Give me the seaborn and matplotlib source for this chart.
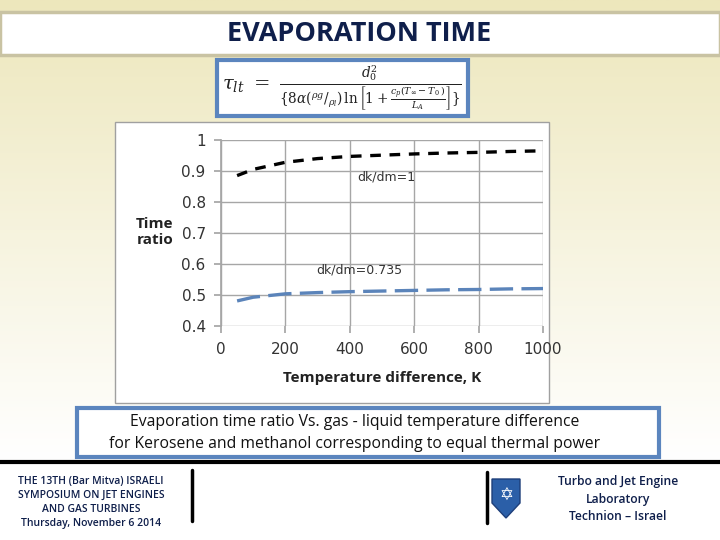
import numpy as np
import pandas as pd
import matplotlib
matplotlib.use("Agg")
import matplotlib.pyplot as plt
import matplotlib.patches as mpatches
import seaborn as sns

# ---- data ----
temp_diff = [50, 100, 200, 300, 400, 500, 600, 700, 800, 900, 1000]
ratio_dk1 = [0.885, 0.905, 0.928, 0.940, 0.947, 0.951, 0.955, 0.958, 0.960, 0.963, 0.965]
ratio_dk0735 = [0.480, 0.492, 0.503, 0.507, 0.510, 0.512, 0.514, 0.516, 0.517, 0.519, 0.520]
series_names = ["dk/dm=1", "dk/dm=0.735"]
x_ticks = [0, 200, 400, 600, 800, 1000]
y_ticks = [0.4, 0.5, 0.6, 0.7, 0.8, 0.9, 1.0]
y_tick_labels = ["0.4", "0.5", "0.6", "0.7", "0.8", "0.9", "1"]

df = pd.DataFrame({
    "T": temp_diff * 2,
    "ratio": ratio_dk1 + ratio_dk0735,
    "series": [series_names[0]] * len(temp_diff) + [series_names[1]] * len(temp_diff),
})

sns.set_theme(style="white")
plt.rcParams["font.family"] = ["DejaVu Sans"]
plt.rcParams["mathtext.fontset"] = "dejavuserif"

W, H = 720, 540
fig = plt.figure(figsize=(7.2, 5.4), dpi=100)


def fx(px):
    return px / W


def fy(py):
    return 1 - py / H


# ---- background gradient ----
bg = fig.add_axes([0, 0, 1, 1], zorder=-10)
bg.set_axis_off()
top = np.array([237, 231, 188]) / 255.0
bot = np.array([255, 255, 255]) / 255.0
t = np.clip(np.linspace(0, 1, 300) / 0.85, 0, 1)[:, None]
grad = top[None, :] * (1 - t) + bot[None, :] * t
img = np.repeat(grad[:, None, :], 2, axis=1)
bg.imshow(img, aspect="auto", extent=[0, 1, 0, 1], origin="upper")
bg.set_xlim(0, 1)
bg.set_ylim(0, 1)

# white area below footer line
bg.add_patch(mpatches.Rectangle((0, 0), 1, fy(461), color="white", transform=bg.transAxes))

# title box
bg.add_patch(mpatches.Rectangle((fx(0), fy(55)), 1, (55 - 12) / H, facecolor="white",
                                edgecolor="#C9C3A3", lw=2.5, transform=bg.transAxes))
fig.text(fx(359), fy(34), "EVAPORATION TIME", ha="center", va="center",
         fontsize=19.5, color="#0F1F4B", family=["Liberation Sans Narrow", "Open Sans"],
         fontweight="bold")

# formula box
bg.add_patch(mpatches.Rectangle((fx(217), fy(116)), (468 - 217) / W, (116 - 60) / H,
                                facecolor="white", edgecolor="#5B85BE", lw=3, transform=bg.transAxes))
fig.text(fx(342), fy(88),
         r"$\tau_{lt}\ =\ \frac{d_0^2}{\{8\alpha({}^{\rho g}/_{\rho_l})\,\ln\left[1+\frac{c_p(T_\infty-T_0\,)}{L_A}\right]\}}$",
         ha="center", va="center", fontsize=14, color="#222222")

# chart frame
bg.add_patch(mpatches.Rectangle((fx(115), fy(403)), (549 - 115) / W, (403 - 122) / H,
                                facecolor="white", edgecolor="#A0A0A0", lw=1, transform=bg.transAxes))

# caption box
bg.add_patch(mpatches.Rectangle((fx(77), fy(457)), (659 - 77) / W, (457 - 408) / H,
                                facecolor="white", edgecolor="#5B85BE", lw=3, transform=bg.transAxes))
fig.text(fx(355), fy(422), "Evaporation time ratio Vs. gas - liquid temperature difference",
         ha="center", va="center", fontsize=11.3, color="#111111", family="Open Sans")
fig.text(fx(355), fy(444), "for Kerosene and methanol corresponding to equal thermal power",
         ha="center", va="center", fontsize=11.3, color="#111111", family="Open Sans")

# footer line
bg.plot([0, 1], [fy(462), fy(462)], color="black", lw=3, transform=bg.transAxes)
bg.plot([fx(192), fx(192)], [fy(470), fy(521)], color="black", lw=2.5, transform=bg.transAxes)
bg.plot([fx(487), fx(487)], [fy(472), fy(523)], color="black", lw=2.5, transform=bg.transAxes)

left_lines = ["THE 13TH (Bar Mitva) ISRAELI", "SYMPOSIUM ON JET ENGINES",
              "AND GAS TURBINES", "Thursday, November 6 2014"]
for i, s in enumerate(left_lines):
    fig.text(fx(91), fy(481 + i * 14.3), s, ha="center", va="center", fontsize=7.5,
             color="#0F1F4B", family="Open Sans", fontweight="semibold")
right_lines = ["Turbo and Jet Engine", "Laboratory", "Technion \u2013 Israel"]
for i, s in enumerate(right_lines):
    fig.text(fx(618), fy(482 + i * 17), s, ha="center", va="center", fontsize=8.7,
             color="#0F1F4B", family="Open Sans", fontweight="semibold")

# logo (simple shield)
shield = np.array([[492, 479], [520, 479], [520, 503], [506, 518], [492, 503]], dtype=float)
bg.add_patch(mpatches.Polygon(np.c_[shield[:, 0] / W, 1 - shield[:, 1] / H], closed=True,
                              facecolor="#2B5FA8", edgecolor="#1E3F7A", lw=1,
                              transform=bg.transAxes))
fig.text(fx(506), fy(495), "\u2721", ha="center", va="center", fontsize=12, color="white")

# ---- chart ----
ax = fig.add_axes([fx(221), fy(325.7), (543 - 221) / W, (325.7 - 140) / H])
ax.set_facecolor("white")
sns.lineplot(data=df, x="T", y="ratio", hue="series", style="series",
             palette={series_names[0]: "black", series_names[1]: "#5B84BA"},
             dashes={series_names[0]: (3.2, 2.6), series_names[1]: (7, 2.5)},
             ax=ax, legend=False, linewidth=2.4)
for ln in ax.get_lines():
    ln.set_solid_capstyle("butt")
    ln.set_dash_capstyle("butt")

ax.set_xlim(0, 1000)
ax.set_ylim(0.4, 1.0)
ax.set_xticks(x_ticks)
ax.set_yticks(y_ticks)
ax.set_yticklabels(y_tick_labels)
ax.grid(True, color="#A6A6A6", lw=1)
for side in ["top", "right", "bottom"]:
    ax.spines[side].set_visible(False)
ax.spines["left"].set_color("#A6A6A6")
ax.tick_params(axis="both", labelsize=11, colors="#333333", length=5, color="#A6A6A6",
               direction="out", left=True, bottom=True)
ax.tick_params(axis="x", pad=7)
ax.tick_params(axis="y", pad=6)
for lab in ax.get_xticklabels() + ax.get_yticklabels():
    lab.set_family("DejaVu Sans")
    lab.set_color("#333333")
ax.set_xlabel("Temperature difference, K", fontsize=11, fontweight="bold", family="Open Sans",
              labelpad=10, color="#222222")
ax.set_ylabel("")
fig.text(fx(173), fy(232), "Time\nratio", ha="right", va="center", fontsize=11,
         fontweight="bold", family="Open Sans", color="#222222", linespacing=1.1,
         multialignment="right")

ax.text(512, 0.88, series_names[0], ha="center", va="center", fontsize=9, color="#333333")
ax.text(431, 0.58, series_names[1], ha="center", va="center", fontsize=9, color="#333333")

fig.savefig("out.png", dpi=100)
